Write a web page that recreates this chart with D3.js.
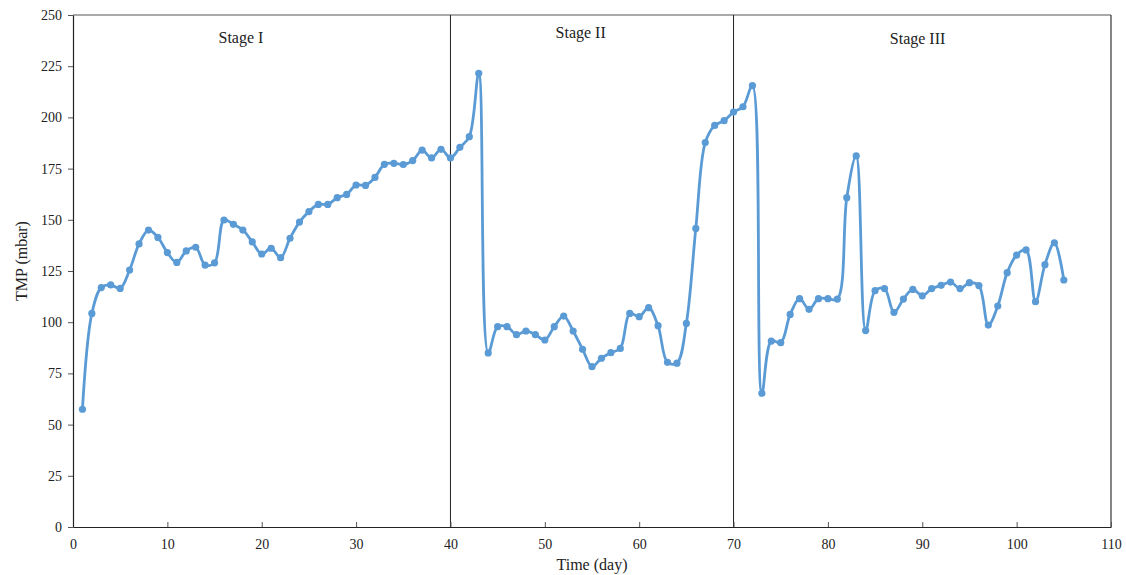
<!DOCTYPE html>
<html>
<head>
<meta charset="utf-8">
<script src="https://cdn.jsdelivr.net/npm/d3@7"></script>
<style>
  body { margin: 0; background: #fff; }
  text { font-family: "Liberation Serif", "Times New Roman", serif; fill: #222; }
</style>
</head>
<body>
<div id="chart"></div>
<script>
// Data: day and TMP (mbar)
const days = d3.range(1, 106);
const tmp = [
  57.5, 104.3, 116.9, 118.2, 116.5, 125.5, 138.2, 145, 141.4, 134,
  129.2, 134.8, 136.6, 127.9, 129, 149.9, 147.8, 145, 139.2, 133.3,
  136.1, 131.5, 141, 148.9, 154, 157.5, 157.5, 160.8, 162.4, 167,
  166.8, 170.7, 177.1, 177.6, 177, 178.9, 184, 180.2, 184.4, 180.2,
  185.4, 190.6, 221.5, 85, 97.8, 97.8, 93.9, 95.7, 93.9, 91.3,
  97.8, 103, 95.7, 86.8, 78.3, 82.4, 85.1, 87.2, 104.3, 102.7,
  107.1, 98.3, 80.4, 80, 99.4, 145.8, 187.7, 196.1, 198.4, 202.6,
  205.2, 215.5, 65.3, 90.8, 90, 103.8, 111.5, 106.3, 111.5, 111.5,
  111.3, 160.8, 181.2, 95.9, 115.4, 116.4, 104.8, 111.3, 116, 112.9,
  116.4, 118, 119.6, 116.4, 119.3, 117.9, 98.6, 107.9, 124.2, 132.8,
  135.3, 110, 128.1, 138.8, 120.6
];
const xTicks = d3.range(0, 111, 10);
const yTicks = d3.range(0, 251, 25);
const stageBounds = [40, 70];
const stageLabels = ['Stage I', 'Stage II', 'Stage III'];
const stageLabelX = [17.8, 53.8, 89.5];
const stageLabelY = [236.5, 239, 236];

const width = 1126;
const height = 575;
const margin = { top: 15, right: 15, bottom: 48, left: 73 };
const w = width - margin.left - margin.right;
const h = height - margin.top - margin.bottom;

const svg = d3.select('#chart')
  .append('svg')
  .attr('width', width)
  .attr('height', height);

const g = svg.append('g')
  .attr('transform', `translate(${margin.left},${margin.top})`);

const x = d3.scaleLinear().domain([0, 110]).range([0, w]);
const y = d3.scaleLinear().domain([0, 250]).range([h, 0]);

// frame: top and right borders
g.append('line')
  .attr('x1', 0).attr('x2', w).attr('y1', 0).attr('y2', 0)
  .attr('stroke', '#8c8c8c').attr('stroke-width', 1.5);
g.append('line')
  .attr('x1', w).attr('x2', w).attr('y1', 0).attr('y2', h)
  .attr('stroke', '#333').attr('stroke-width', 1.2);

// stage separators
g.selectAll('.sep')
  .data(stageBounds)
  .enter()
  .append('line')
  .attr('class', 'sep')
  .attr('x1', d => x(d)).attr('x2', d => x(d))
  .attr('y1', 0).attr('y2', h)
  .attr('stroke', '#222').attr('stroke-width', 1);

// x axis (ticks inside)
const xAxis = g.append('g')
  .attr('transform', `translate(0,${h})`)
  .call(d3.axisBottom(x).tickValues(xTicks).tickSizeInner(-5).tickSizeOuter(0).tickPadding(12));
xAxis.select('.domain').attr('stroke', '#222').attr('stroke-width', 1.2);
xAxis.selectAll('.tick line').attr('stroke', '#555');
xAxis.selectAll('text').attr('font-size', '14px').attr('font-family', '"Liberation Serif", serif');

// y axis (ticks outside)
const yAxis = g.append('g')
  .call(d3.axisLeft(y).tickValues(yTicks).tickSizeInner(5).tickSizeOuter(0).tickPadding(6));
yAxis.select('.domain').attr('stroke', '#222').attr('stroke-width', 1.2);
yAxis.selectAll('.tick line').attr('stroke', '#555');
yAxis.selectAll('text').attr('font-size', '14px').attr('font-family', '"Liberation Serif", serif');

// smoothed line
const line = d3.line()
  .x((d, i) => x(days[i]))
  .y(d => y(d))
  .curve(d3.curveCatmullRom.alpha(0.5));

g.append('path')
  .datum(tmp)
  .attr('fill', 'none')
  .attr('stroke', '#5b9bd5')
  .attr('stroke-width', 2.8)
  .attr('d', line);

g.selectAll('.pt')
  .data(tmp)
  .enter()
  .append('circle')
  .attr('class', 'pt')
  .attr('cx', (d, i) => x(days[i]))
  .attr('cy', d => y(d))
  .attr('r', 3.6)
  .attr('fill', '#5b9bd5');

// stage labels
g.selectAll('.stage')
  .data(stageLabels)
  .enter()
  .append('text')
  .attr('class', 'stage')
  .attr('x', (d, i) => x(stageLabelX[i]))
  .attr('y', (d, i) => y(stageLabelY[i]))
  .attr('text-anchor', 'middle')
  .attr('font-size', '16px')
  .text(d => d);

// axis titles
g.append('text')
  .attr('x', w / 2)
  .attr('y', h + 43)
  .attr('text-anchor', 'middle')
  .attr('font-size', '16px')
  .text('Time (day)');

g.append('text')
  .attr('transform', 'rotate(-90)')
  .attr('x', -h / 2 + 10)
  .attr('y', -margin.left + 27)
  .attr('text-anchor', 'middle')
  .attr('font-size', '16px')
  .text('TMP (mbar)');
</script>
</body>
</html>
